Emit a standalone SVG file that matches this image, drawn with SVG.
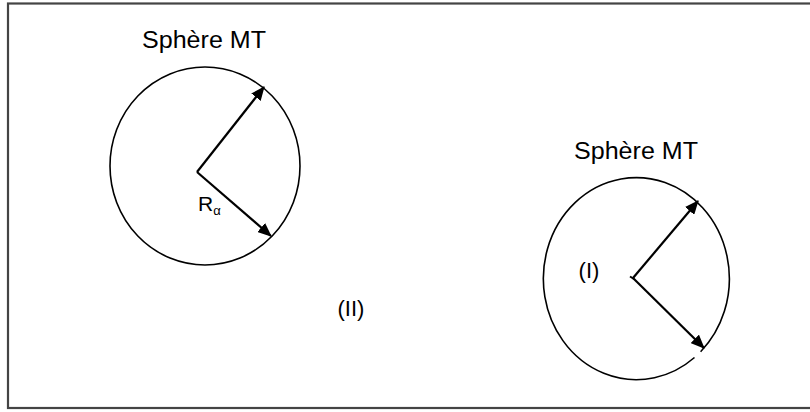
<svg xmlns="http://www.w3.org/2000/svg" width="810" height="412" viewBox="0 0 810 412">
<defs>
<marker id="ah" markerWidth="14" markerHeight="12" refX="13" refY="6" orient="auto" markerUnits="userSpaceOnUse">
<path d="M0,0 L14,6 L0,12 z" fill="#000"/>
</marker>
<style>
.t{font-family:"Liberation Sans","Open Sans",sans-serif;fill:#000;}
.c{fill:none;stroke:#000;stroke-width:1.6;}
.a{fill:none;stroke:#000;stroke-width:2.2;marker-end:url(#ah);}
</style>
</defs>
<rect x="0" y="0" width="810" height="412" fill="#fff"/>
<rect x="8" y="3.5" width="815" height="404.5" fill="none" stroke="#444" stroke-width="2.2"/>
<g id="sphere-left">
<text class="t" x="204" y="48" font-size="23" text-anchor="middle" textLength="124" lengthAdjust="spacingAndGlyphs">Sphère MT</text>
<ellipse class="c" cx="205" cy="166" rx="95" ry="99"/>
<text class="t" x="198" y="211" font-size="21">R<tspan font-size="13" dy="4">α</tspan></text>
</g>
<g id="sphere-right">
<text class="t" x="636" y="159" font-size="23" text-anchor="middle" textLength="124" lengthAdjust="spacingAndGlyphs">Sphère MT</text>
<path class="c" d="M694.5,357.5 A93,101 0 1 1 700.6,351.7"/>
<text class="t" x="589" y="278" font-size="22" text-anchor="middle">(I)</text>
<line x1="630" y1="276.5" x2="634" y2="279" stroke="#000" stroke-width="2"/>
</g>
<g id="region-II">
<text class="t" x="351" y="316" font-size="22" text-anchor="middle">(II)</text>
</g>
<g id="connectors">
<line class="a" x1="197" y1="172" x2="264" y2="87"/>
<line class="a" x1="197" y1="172" x2="271" y2="236"/>
<line class="a" x1="633" y1="278" x2="698" y2="201"/>
<line class="a" x1="633" y1="278" x2="704" y2="348"/>
</g>
</svg>
